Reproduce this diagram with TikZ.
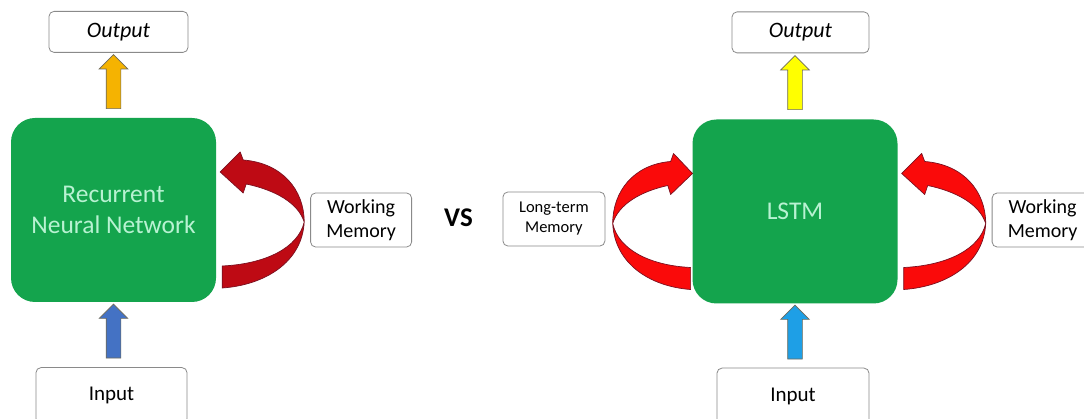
\documentclass[tikz,border=0pt]{standalone}
\usepackage{fontspec}
\setmainfont{Carlito}
\usetikzlibrary{calc,positioning,shapes.arrows}
\definecolor{Leaf}{HTML}{14A44D}
\definecolor{Mint}{HTML}{B8F2D2}
\definecolor{Frame}{HTML}{8A8A8A}
\definecolor{Edge}{HTML}{6E6A5A}
\definecolor{Amber}{HTML}{F5B301}
\definecolor{Lemon}{HTML}{FFFF00}
\definecolor{Cobalt}{HTML}{4472C4}
\definecolor{Sky}{HTML}{1E9FE6}
\definecolor{DeepRed}{HTML}{BE0A14}
\definecolor{BrightRed}{HTML}{FA0A0A}
\definecolor{RedLine}{HTML}{7A1020}
\tikzset{
  panel/.style={
    rounded corners=24pt, fill=Leaf, text=Mint,
    minimum width=205pt, minimum height=184pt, align=center,
    font=\fontsize{25.5}{31}\selectfont
  },
  tag/.style={
    rounded corners=5pt, draw=Frame, line width=0.8pt, fill=white,
    align=center, inner sep=2pt, font=\fontsize{20}{24}\selectfont
  },
  fatarrow/.style={
    single arrow, shape border rotate=90, draw=Edge, line width=0.7pt,
    inner sep=7pt, single arrow head extend=7pt, minimum height=54pt
  },
  loop arrow/.pic={
    \draw[pic actions, line width=0.7pt, line join=round]
      (6,78) .. controls (49,75) and (86,52) .. (88,12)
      .. controls (88,-20) and (66,-47) .. (27,-50)
      -- (24,-58) -- (4,-38) -- (27,-17) -- (30,-26)
      .. controls (59,-20) and (82,-7) .. (88,12)
      .. controls (82,38) and (49,54) .. (6,56) -- cycle;
  }
}
\begin{document}
\begin{tikzpicture}[x=1pt,y=-1pt]
  \fill[white] (0,0) rectangle (1084,419);
  \useasboundingbox (0,0) rectangle (1084,419);

  % recurrent neural network
  \node[panel] (rnn) at (113.5,210) {Recurrent\\Neural Network};
  \node[tag,minimum width=139pt,minimum height=41pt,above=65pt of rnn,xshift=5pt,
    font=\fontsize{22}{26}\selectfont\itshape] (out1) {Output};
  \node[tag,minimum width=151pt,minimum height=56pt,below=65pt of rnn,xshift=-2pt,
    font=\fontsize{21}{25}\selectfont] (in1) {Input};
  \node[tag,minimum width=101pt,minimum height=54pt,right=94pt of rnn,yshift=-10pt] (wm1) {Working\\Memory};
  \path (rnn.north) -- node[fatarrow,fill=Amber] (up1) {} (rnn.north |- out1.south);
  \path (rnn.south |- in1.north) -- node[fatarrow,fill=Cobalt] (dn1) {} (rnn.south);
  \pic[fill=DeepRed,draw=RedLine] at (rnn.east) {loop arrow};

  \node[font=\fontsize{27}{30}\selectfont\bfseries] (vs) at (458.5,218) {VS};

  % lstm
  \node[panel] (lstm) at (795,211.5) {LSTM};
  \node[tag,minimum width=137pt,minimum height=41pt,above=66pt of lstm,xshift=5.5pt,
    font=\fontsize{22}{26}\selectfont\itshape] (out2) {Output};
  \node[tag,minimum width=152pt,minimum height=56pt,below=64pt of lstm,xshift=-2pt,
    font=\fontsize{21}{25}\selectfont] (in2) {Input};
  \node[tag,minimum width=101pt,minimum height=54pt,right=94pt of lstm,yshift=-8.5pt] (wm2) {Working\\Memory};
  \node[tag,minimum width=102pt,minimum height=54pt,left=87pt of lstm,yshift=-7.5pt,
    font=\fontsize{16.5}{20}\selectfont] (ltm) {Long-term\\Memory};
  \path (lstm.north) -- node[fatarrow,fill=Lemon] (up2) {} (lstm.north |- out2.south);
  \path (lstm.south |- in2.north) -- node[fatarrow,fill=Sky] (dn2) {} (lstm.south);
  \pic[fill=BrightRed,draw=RedLine] at (lstm.east) {loop arrow};
  \pic[fill=BrightRed,draw=RedLine,xscale=-0.95] at ([xshift=4pt]lstm.west) {loop arrow};
\end{tikzpicture}
\end{document}
